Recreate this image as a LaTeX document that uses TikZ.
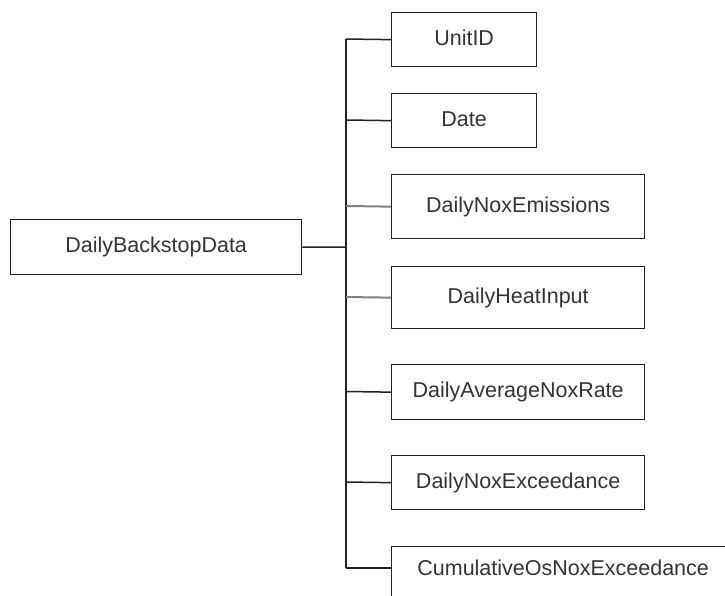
\documentclass[tikz,border=0pt]{standalone}
\usepackage{fontspec}
\setmainfont{Liberation Sans}
\definecolor{txt}{HTML}{333333}
\definecolor{boxc}{HTML}{222222}
\definecolor{darkline}{HTML}{222222}
\definecolor{grayline}{HTML}{808080}
\tikzset{
  fld/.style={draw=boxc, line width=1.3pt, inner sep=0pt, anchor=north west,
    text=txt, font=\fontsize{21.5}{24}\selectfont, text height=15.5pt, text depth=4.5pt},
  conn/.style={draw=darkline, line width=1.5pt},
  gconn/.style={draw=grayline, line width=2pt}
}
\begin{document}
\begin{tikzpicture}[x=1pt,y=-1pt]
\useasboundingbox (0,0) rectangle (725,596);
\clip (0,0) rectangle (725,596);
\node[fld, minimum width=291pt, minimum height=55pt] (root) at (10,219) {DailyBackstopData};
\node[fld, minimum width=145pt, minimum height=54pt] (unitid) at (391,12) {UnitID};
\node[fld, minimum width=145pt, minimum height=54pt] (date) at (391,93) {Date};
\node[fld, minimum width=253pt, minimum height=64pt] (emis) at (391,174) {DailyNoxEmissions};
\node[fld, minimum width=253pt, minimum height=62pt] (heat) at (391,266) {DailyHeatInput};
\node[fld, minimum width=253pt, minimum height=55pt] (avg) at (391,364) {DailyAverageNoxRate};
\node[fld, minimum width=253pt, minimum height=54pt] (exc) at (391,455) {DailyNoxExceedance};
\node[fld, minimum width=343pt, text height=29pt, text depth=41pt] (cum) at (391,546) {CumulativeOsNoxExceedance};
\coordinate (tr) at (346,247);
\coordinate (t1) at (346,39);
\coordinate (t2) at (346,120);
\coordinate (t3) at (346,206);
\coordinate (t4) at (346,297);
\coordinate (t5) at (346,391.5);
\coordinate (t6) at (346,482);
\coordinate (t7) at (346,568);
\draw[conn] (t1) -- (t7);
\draw[conn] (root.east) -- (tr);
\draw[conn] (t1) -- (unitid.west);
\draw[conn] (t2) -- (date.west);
\draw[gconn] (t3) -- (emis.west);
\draw[gconn] (t4) -- (heat.west);
\draw[conn] (t5) -- (avg.west);
\draw[conn] (t6) -- (exc.west);
\draw[conn] (t7) -- (t7 -| cum.west);
\end{tikzpicture}
\end{document}
